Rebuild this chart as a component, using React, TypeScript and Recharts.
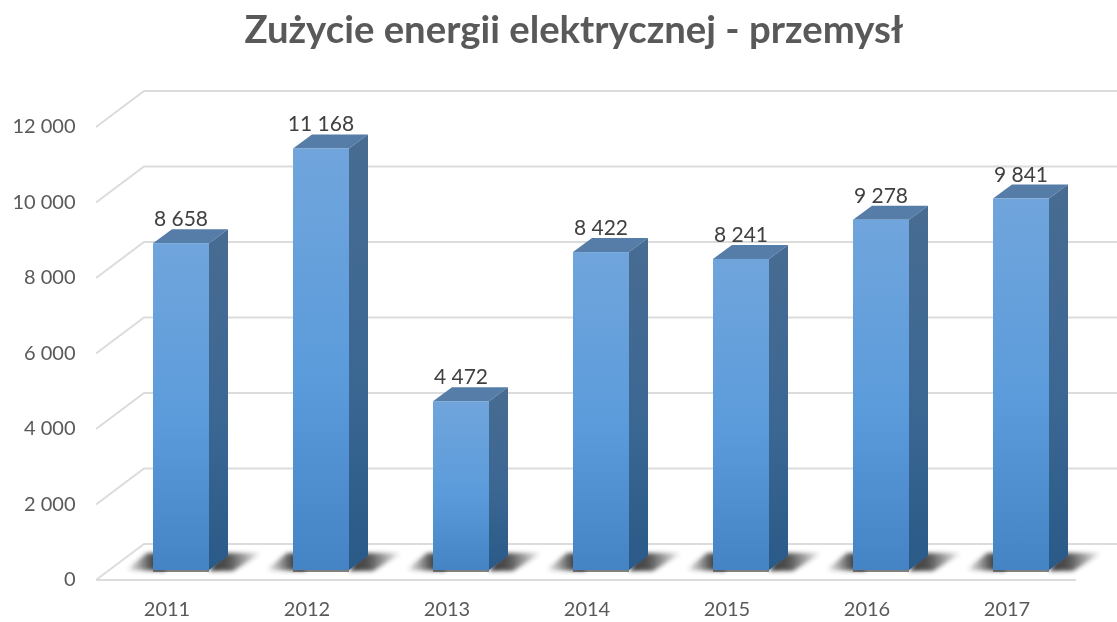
import { Bar, BarChart, CartesianGrid, LabelList, XAxis, YAxis } from "recharts";

const years = ["2011", "2012", "2013", "2014", "2015", "2016", "2017"];
const usage = [8658, 11168, 4472, 8422, 8241, 9278, 9841];
const yTicks = [0, 2000, 4000, 6000, 8000, 10000, 12000];

const chartData = years.map((year, i) => ({ year, usage: usage[i] }));

const FONT = "Lato, sans-serif";
const DEPTH_X = 19;
const DEPTH_Y = 14;

// 12000 -> "12 000"
const groupThousands = (value: number) =>
  String(value).replace(/\B(?=(\d{3})+$)/g, " ");

// fake perspective: front edge sits below the value line, back wall above it
function GridLine(props: any) {
  const { x1, x2, y1 } = props;
  const isFloor = y1 > 560;
  const left = x1 - 15;
  const back = x1 + 33;
  return (
    <g fill="none" stroke="#dcdcdc" strokeWidth={2}>
      <polyline points={`${left},${y1 + 10} ${back},${y1 - 26} ${x2 + 30},${y1 - 26}`} />
      {isFloor && <line x1={left} y1={y1 + 10} x2={x2 - 15} y2={y1 + 10} />}
    </g>
  );
}

function Bar3D(props: any) {
  const { x, y, width, height } = props;
  const right = x + width;
  const bottom = y + height;
  return (
    <g>
      <polygon
        points={`${x - 27},${bottom} ${x - 6},${bottom - 17} ${x + 12},${bottom - 17} ${x + 12},${bottom + 1} `}
        fill="url(#shadowLeft)"
        filter="url(#soft)"
      />
      <polygon
        points={`${right},${bottom + 1} ${right + DEPTH_X - 6},${bottom - 17} ${right + DEPTH_X + 34},${bottom - 17} ${right + 24},${bottom + 1}`}
        fill="url(#shadowRight)"
        filter="url(#soft)"
      />
      <rect x={x} y={bottom} width={width} height={2} fill="#4a4a4a" opacity={0.7} />
      <polygon
        points={`${x},${y} ${x + DEPTH_X},${y - DEPTH_Y} ${right + DEPTH_X},${y - DEPTH_Y} ${right},${y}`}
        fill="#567ca8"
      />
      <polygon
        points={`${right},${y} ${right + DEPTH_X},${y - DEPTH_Y} ${right + DEPTH_X},${bottom - DEPTH_Y} ${right},${bottom}`}
        fill="url(#barSide)"
      />
      <rect x={x} y={y} width={width} height={height} fill="url(#barFront)" />
    </g>
  );
}

function YTick(props: any) {
  const { y, payload } = props;
  return (
    <text x={75.5} y={y + 16} textAnchor="end" fontFamily={FONT} fontSize={20} fill="#595959">
      {groupThousands(payload.value)}
    </text>
  );
}

function XTick(props: any) {
  const { x, y, payload } = props;
  return (
    <text x={x - 14} y={y + 38} textAnchor="middle" fontFamily={FONT} fontSize={20} fill="#595959">
      {payload.value}
    </text>
  );
}

export default function App() {
  return (
    <div style={{ position: "absolute", left: 0, top: 0, filter: "blur(0.4px)" }}>
      <BarChart
        width={1117}
        height={622}
        data={chartData}
        margin={{ top: 117, right: 26, bottom: 22, left: 0 }}
      >
        <defs>
          <linearGradient id="barFront" x1="0" y1="0" x2="0" y2="1">
            <stop offset="0%" stopColor="#70a5dc" />
            <stop offset="55%" stopColor="#5b9bdb" />
            <stop offset="100%" stopColor="#4484c5" />
          </linearGradient>
          <linearGradient id="barSide" x1="0" y1="0" x2="0" y2="1">
            <stop offset="0%" stopColor="#486c92" />
            <stop offset="55%" stopColor="#3b6793" />
            <stop offset="100%" stopColor="#2a5a88" />
          </linearGradient>
          <linearGradient id="shadowLeft" x1="0" y1="0" x2="1" y2="0">
            <stop offset="0%" stopColor="#303030" stopOpacity={0} />
            <stop offset="65%" stopColor="#303030" stopOpacity={0.85} />
            <stop offset="100%" stopColor="#303030" stopOpacity={1} />
          </linearGradient>
          <linearGradient id="shadowRight" x1="0" y1="0" x2="1" y2="0">
            <stop offset="0%" stopColor="#303030" stopOpacity={1} />
            <stop offset="40%" stopColor="#303030" stopOpacity={0.8} />
            <stop offset="100%" stopColor="#303030" stopOpacity={0} />
          </linearGradient>
          <filter id="soft" x="-20%" y="-40%" width="140%" height="180%">
            <feGaussianBlur stdDeviation="2.2" />
          </filter>
        </defs>
        <text
          x={574}
          y={43}
          textAnchor="middle"
          fontFamily={FONT}
          fontWeight={700}
          fontSize={38.3}
          fill="#595959"
        >
          Zużycie energii elektrycznej - przemysł
        </text>
        <CartesianGrid vertical={false} horizontal={(p: any) => <GridLine key={p.y1} {...p} />} />
        <XAxis dataKey="year" axisLine={false} tickLine={false} tick={XTick} interval={0} />
        <YAxis
          width={111}
          domain={[0, 12000]}
          ticks={yTicks}
          interval={0}
          axisLine={false}
          tickLine={false}
          tick={YTick}
        />
        <Bar dataKey="usage" barSize={56} shape={Bar3D} isAnimationActive={false}>
          <LabelList
            dataKey="usage"
            position="top"
            offset={17}
            formatter={groupThousands}
            fontFamily={FONT}
            fontSize={21}
            fill="#404040"
          />
        </Bar>
      </BarChart>
    </div>
  );
}
